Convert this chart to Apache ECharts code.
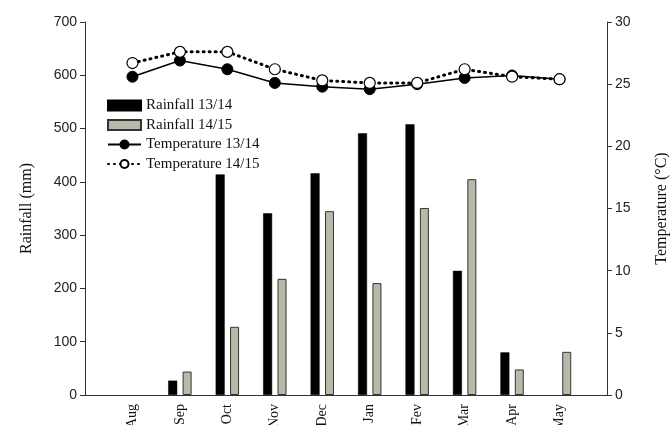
<!DOCTYPE html>
<html><head><meta charset="utf-8">
<script src="https://cdn.jsdelivr.net/npm/echarts@6/dist/echarts.min.js"></script>
<style>html,body{margin:0;padding:0;background:#fff}#c{width:672px;height:425px}</style>
</head><body><div id="c"></div>
<script>
const months = ['Aug','Sep','Oct','Nov','Dec','Jan','Fev','Mar','Apr','May'];
const rain1314 = [null, 27, 414, 341, 416, 491, 508, 233, 80, null];
const rain1415 = [null, 44, 128, 218, 345, 210, 351, 405, 48, 81];
const temp1314 = [25.6, 26.9, 26.2, 25.1, 24.8, 24.6, 25.0, 25.5, 25.7, 25.4];
const temp1415 = [26.7, 27.6, 27.6, 26.2, 25.3, 25.1, 25.1, 26.2, 25.6, 25.4];
const rainTicks = [0,100,200,300,400,500,600,700];
const tempTicks = [0,5,10,15,20,25,30];

const pad = a => [null, ...a, null];
const cats = ['', ...months, ''];
const serif = 'Liberation Serif';
const sans = 'Liberation Sans';

const chart = echarts.init(document.getElementById('c'), null, {renderer:'canvas'});
chart.setOption({
  animation:false,
  backgroundColor:'#fff',
  grid:{left:85, right:65, top:22, bottom:30, containLabel:false, outerBoundsMode:'none'},
  legend:{
    orient:'vertical', left:102, top:93, itemWidth:33, itemHeight:10, itemGap:4.5,
    selectedMode:false,
    textStyle:{fontFamily:serif, fontSize:15, color:'#111'},
    data:[
      {name:'Rainfall 13/14', icon:'rect'},
      {name:'Rainfall 14/15', icon:'rect'},
      'Temperature 13/14','Temperature 14/15']
  },
  xAxis:{
    type:'category', data:cats, boundaryGap:false,
    axisLine:{show:true, lineStyle:{color:'#333', width:1}},
    axisTick:{show:false},
    axisLabel:{rotate:90, margin:9, fontFamily:serif, fontSize:14, color:'#111', interval:0},
    splitLine:{show:false}
  },
  yAxis:[{
    type:'value', min:0, max:700, interval:100, position:'left',
    name:'Rainfall (mm)', nameLocation:'middle', nameGap:50,
    nameTextStyle:{fontFamily:serif, fontSize:16, color:'#111'},
    axisLine:{show:true, lineStyle:{color:'#333'}},
    axisTick:{show:true, inside:false, length:5, lineStyle:{color:'#333'}},
    axisLabel:{fontFamily:sans, fontSize:14, color:'#222', margin:8},
    splitLine:{show:false}
  },{
    type:'value', min:0, max:30, interval:5, position:'right',
    name:'Temperature (°C)', nameLocation:'middle', nameGap:47, nameRotate:90,
    nameTextStyle:{fontFamily:serif, fontSize:16, color:'#111'},
    axisLine:{show:true, lineStyle:{color:'#333'}},
    axisTick:{show:true, inside:false, length:5, lineStyle:{color:'#333'}},
    axisLabel:{fontFamily:sans, fontSize:14, color:'#222', margin:8},
    splitLine:{show:false}
  }],
  series:[
    {name:'Rainfall 13/14', type:'bar', yAxisIndex:0, data:pad(rain1314),
     barWidth:9, barGap:'60%', itemStyle:{color:'#000', borderColor:'#000', borderWidth:0.5}},
    {name:'Rainfall 14/15', type:'bar', yAxisIndex:0, data:pad(rain1415),
     barWidth:9, itemStyle:{color:'#b9b9aa', borderColor:'#333', borderWidth:1}},
    {name:'Temperature 13/14', type:'line', yAxisIndex:1, data:pad(temp1314),
     symbol:'circle', symbolSize:11, showAllSymbol:true,
     lineStyle:{color:'#000', width:1.5, type:'solid'},
     itemStyle:{color:'#000', borderColor:'#000', borderWidth:1}},
    {name:'Temperature 14/15', type:'line', yAxisIndex:1, data:pad(temp1415),
     symbol:'circle', symbolSize:11, showAllSymbol:true,
     lineStyle:{color:'#000', width:3, type:[1,5], cap:'round'},
     itemStyle:{color:'#fff', borderColor:'#000', borderWidth:1.2}}
  ]
});
</script></body></html>
